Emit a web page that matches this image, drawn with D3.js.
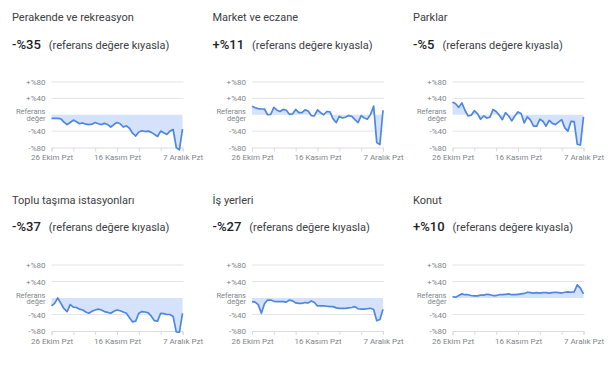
<!DOCTYPE html>
<html>
<head>
<meta charset="utf-8">
<script src="https://cdn.jsdelivr.net/npm/d3@7"></script>
<style>
  body { margin: 0; background: #fff; }
  text { font-family: Roboto, "Noto Sans", sans-serif; }
</style>
</head>
<body>
<div id="chart-area"></div>
<script>
// categories (one small chart each)
const categories = ["Perakende ve rekreasyon", "Market ve eczane", "Parklar",
  "Toplu taşıma istasyonları", "İş yerleri", "Konut"]

// daily change vs baseline, 26 Oct -> 7 Dec
const retail = [-9, -9, -9, -10, -18, -24, -19, -13, -17, -22, -20, -23, -24, -23, -19, -22, -24, -21, -24, -30, -24, -19, -22, -30, -27, -33, -45, -52, -42, -39, -41, -40, -43, -48, -53, -40, -44, -48, -40, -36, -80, -86, -35]
const grocery = [21, 17, 15, 14, 14, 0, 1, 18, 11, 8, 13, 11, 1, 2, 13, 5, 5, 12, 9, -2, -3, 12, 5, 0, 8, 7, -10, -19, -4, -8, -6, -2, -4, -12, -19, -2, -8, -11, 1, 21, -68, -73, 11]
const parks = [31, 27, 18, 29, 11, -3, -1, 10, 3, -11, -3, -8, -6, 13, 8, -1, -12, 5, -3, -15, -3, 7, 3, -20, -5, -13, -28, -28, -11, -16, -28, -14, -21, -24, -18, -12, -32, -40, -16, -17, -72, -74, -5]
const transit = [-19, -13, 0, -13, -26, -33, -16, -22, -23, -27, -29, -34, -37, -32, -29, -27, -29, -33, -35, -37, -32, -29, -31, -34, -37, -48, -58, -56, -37, -33, -34, -36, -44, -55, -56, -37, -38, -40, -40, -45, -82, -83, -37]
const workplaces = [-9, -10, -16, -37, -14, -5, -5, -8, -9, -9, -9, -10, -5, -7, -12, -13, -13, -11, -12, -7, -11, -19, -19, -19, -20, -21, -21, -24, -25, -25, -25, -24, -23, -21, -26, -27, -27, -26, -25, -28, -55, -52, -27]
const residential = [3, 2, 6, 10, 8, 8, 6, 5, 5, 7, 7, 9, 8, 6, 6, 8, 8, 9, 10, 8, 8, 9, 10, 11, 14, 13, 12, 13, 12, 13, 13, 12, 13, 14, 13, 12, 14, 15, 14, 15, 32, 24, 10]

const seriesList = [retail, grocery, parks, transit, workplaces, residential]

const yTicks = [80, 40, 0, -40, -80]
const baselineLabel = ["Referans", "değer"]
const xTickLabels = ["26 Ekim Pzt", "16 Kasım Pzt", "7 Aralık Pzt"]
const startDate = new Date(2020, 9, 26)

const WIDTH = 614
const HEIGHT = 365
const COL_X = [12, 212.5, 413]
const ROW = [
  { title: 21, head: 49, top: 82, bottom: 147.5 },
  { title: 204, head: 231, top: 265, bottom: 331 }
]

const svg = d3.select("#chart-area").append("svg")
  .attr("width", WIDTH)
  .attr("height", HEIGHT)

const pct = v => v > 0 ? "+%" + v : v < 0 ? "-%" + Math.abs(v) : "%0"

seriesList.forEach((values, i) => {
  const col = i % 3
  const row = ROW[Math.floor(i / 3)]
  const left = COL_X[col]
  const chartLeft = left + 39.5
  const chartRight = chartLeft + 131

  const g = svg.append("g")

  const dates = values.map((d, k) => d3.timeDay.offset(startDate, k))

  const x = d3.scaleTime()
    .domain([dates[0], dates[dates.length - 1]])
    .range([chartLeft, chartRight])

  const y = d3.scaleLinear()
    .domain([-80, 80])
    .range([row.bottom, row.top])

  // title + headline
  g.append("text")
    .attr("x", left)
    .attr("y", row.title)
    .attr("font-size", "11px")
    .attr("fill", "#3c4043")
    .text(categories[i])

  const head = g.append("text")
    .attr("x", left)
    .attr("y", row.head)
    .attr("fill", "#202124")
  head.append("tspan")
    .attr("font-size", "13px")
    .attr("font-weight", 500)
    .text(pct(values[values.length - 1]))
  head.append("tspan")
    .attr("dx", 8)
    .attr("font-size", "11px")
    .attr("fill", "#3c4043")
    .text("(referans değere kıyasla)")

  // grid lines
  g.selectAll(".grid")
    .data(yTicks.filter(t => t !== 0 && t !== -80))
    .enter().append("line")
      .attr("x1", chartLeft)
      .attr("x2", chartRight + 1)
      .attr("y1", d => y(d))
      .attr("y2", d => y(d))
      .attr("stroke", "#e3e4e6")
      .attr("stroke-width", 1)

  // y labels
  yTicks.forEach(t => {
    if (t === 0) {
      baselineLabel.forEach((s, j) => {
        g.append("text")
          .attr("x", chartLeft - 6)
          .attr("y", y(0) - 0.5 + j * 6.5)
          .attr("text-anchor", "end")
          .attr("font-size", "7.5px")
          .attr("fill", "#80868b")
          .text(s)
      })
    } else {
      g.append("text")
        .attr("x", chartLeft - 6)
        .attr("y", y(t) + 3)
        .attr("text-anchor", "end")
        .attr("font-size", "8px")
        .attr("fill", "#80868b")
        .text(pct(t))
    }
  })

  // x axis at -80
  const xAxisCall = d3.axisBottom(x)
    .ticks(d3.timeMonday.every(1))
    .tickSize(4)
    .tickFormat(d => {
      const day = Math.round((d - startDate) / 864e5)
      return day % 21 === 0 ? xTickLabels[day / 21] : ""
    })
  const ax = g.append("g")
    .attr("transform", `translate(0, ${y(-80)})`)
    .call(xAxisCall)
  ax.select(".domain").attr("stroke", "#dadce0")
  ax.selectAll(".tick line").attr("stroke", "#dadce0")
  ax.selectAll(".tick text")
    .attr("y", 7)
    .attr("font-size", "8px")
    .attr("font-family", "Roboto, sans-serif")
    .attr("fill", "#80868b")

  // area between baseline and value
  const area = d3.area()
    .x((d, k) => x(dates[k]))
    .y0(y(0))
    .y1(d => y(d))
  g.append("path")
    .datum(values)
    .attr("d", area)
    .attr("fill", "#d4e3fb")

  const line = d3.line()
    .x((d, k) => x(dates[k]))
    .y(d => y(d))
  g.append("path")
    .datum(values)
    .attr("d", line)
    .attr("fill", "none")
    .attr("stroke", "#4f87e0")
    .attr("stroke-width", 1.7)
    .attr("stroke-linejoin", "round")
})
</script>
</body>
</html>
